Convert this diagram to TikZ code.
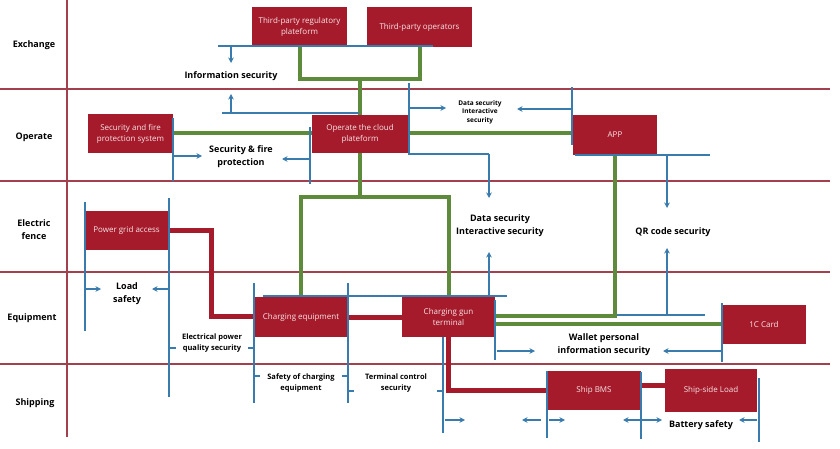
\documentclass[tikz,border=0pt]{standalone}
\usepackage{fontspec}
\setmainfont{Open Sans}
\usetikzlibrary{arrows.meta}
\definecolor{boxred}{HTML}{A61B2B}
\definecolor{gridred}{HTML}{A3404E}
\definecolor{lgreen}{HTML}{5E8A3C}
\definecolor{lblue}{HTML}{3A7BAE}
\pgfdeclarelayer{background}
\pgfsetlayers{background,main}
\begin{document}
\begin{tikzpicture}[x=1pt,y=-1pt,
 box/.style={fill=boxred, draw=none, text=white!88!boxred, font=\fontsize{8}{11}\selectfont, align=center, inner sep=1pt},
 rowlab/.style={font=\bfseries\fontsize{9}{13}\selectfont, align=center},
 lab/.style={font=\bfseries\fontsize{9}{13}\selectfont, align=center},
 mlab/.style={font=\bfseries\fontsize{7.5}{11}\selectfont, align=center},
 slab/.style={font=\bfseries\fontsize{6.5}{8.5}\selectfont, align=center},
 gridline/.style={gridred, line width=1.3pt},
 gline/.style={lgreen, line width=4pt},
 rline/.style={boxred, line width=5pt},
 bline/.style={lblue, line width=1.6pt},
 barrow/.style={bline, -{Stealth[length=5.5pt,width=5.5pt]}},
]
\useasboundingbox (0,0) rectangle (840,449);
% boxes
\node[box, minimum width=95, minimum height=39] (reg) at (299.5,26.5) {Third-party regulatory\\plateform};
\node[box, minimum width=105, minimum height=40] (ops) at (419.5,27) {Third-party operators};
\node[box, minimum width=85, minimum height=39] (sec) at (130.5,133.5) {Security and fire\\protection system};
\node[box, minimum width=96, minimum height=38] (cloud) at (360,134) {Operate the cloud\\plateform};
\node[box, minimum width=84, minimum height=40] (app) at (615,135) {APP};
\node[box, minimum width=83, minimum height=39] (grid) at (126.5,230.5) {Power grid access};
\node[box, minimum width=94, minimum height=40] (cheq) at (301,317) {Charging equipment};
\node[box, minimum width=93, minimum height=40] (gun) at (448.5,317) {Charging gun\\terminal};
\node[box, minimum width=84, minimum height=39] (card) at (764,324.5) {1C Card};
\node[box, minimum width=94, minimum height=39] (bms) at (594,390.5) {Ship BMS};
\node[box, minimum width=92, minimum height=43] (load) at (711,390.5) {Ship-side Load};
\begin{pgfonlayer}{background}
% grid
\draw[gridline] (67,0) -- (67,437);
\foreach \yy in {89,181,272,364} \draw[gridline] (0,\yy) -- (830,\yy);
% green links
\draw[gline] (reg.south) -- ++(0,33) -| (ops.south);
\draw[gline] (cloud.north |- 0,79) -- (cloud.north);
\draw[gline] (cloud.south) -- (cloud.south |- 0,197);
\draw[gline] (cheq.north) -- (cheq.north |- 0,197) -- (gun.north |- 0,197) -- (gun.north);
\draw[gline] (sec.east |- 0,133) -- (cloud.west |- 0,133);
\draw[gline] (cloud.east |- 0,133) -- (app.west |- 0,133);
\draw[gline] (app.south) |- (gun.east |- 0,316);
\draw[gline] (gun.east |- 0,324) -- (card.west |- 0,324);
% red links
\draw[rline] (grid.east |- 0,230.5) -- (211,230.5) |- (cheq.west |- 0,316);
\draw[rline] (cheq.east) -- (gun.west);
\draw[rline] (gun.south) |- (bms.west |- 0,390);
\draw[rline] (bms.east |- 0,385) -- (load.west |- 0,385);
\end{pgfonlayer}
% row labels
\node[rowlab] (rEx) at (34,45) {Exchange};
\node[rowlab] (rOp) at (34,137) {Operate};
\node[rowlab] (rEl) at (34,230) {Electric\\fence};
\node[rowlab] (rEq) at (32,318) {Equipment};
\node[rowlab] (rSh) at (35,403) {Shipping};
% blue: exchange / operate
\draw[bline] (218,46) -- (433,46);
\draw[barrow] (231,46) -- (231,63);
\node[lab] (infosec) at (231,76) {Information security};
\draw[barrow] (231,113) -- (231,94);
\draw[bline] (222,113) -- (359,113);
\draw[bline] (409,83) -- (409,153);
\draw[barrow] (409,108) -- (446,108);
\node[slab] (dsec1) at (480,112) {Data security\\Interactive\\security};
\draw[bline] (572,87) -- (572,145);
\draw[barrow] (572,109) -- (517,109);
\draw[bline] (408,154) -- (489,154);
\draw[barrow] (489,154) -- (489,198);
\node[lab] (dsec2) at (500,226) {Data security\\Interactive security};
\draw[barrow] (489,296) -- (489,252);
\draw[bline] (263,296) -- (507,296);
% security & fire
\draw[bline] (173,118) -- (173,181);
\draw[barrow] (173,156) -- (202,156);
\node[lab] (sfp) at (241,157) {Security \& fire\\protection};
\draw[barrow] (310,159) -- (282,159);
\draw[bline] (310,127) -- (310,184);
% app / QR
\draw[bline] (575,155) -- (710,155);
\draw[barrow] (667,155) -- (667,208);
\node[lab] (qr) at (673,232) {QR code security};
\draw[barrow] (667,316) -- (667,248);
\draw[bline] (617,315) -- (705,315);
% load safety
\draw[bline] (85,202) -- (85,331);
\draw[bline] (169,198) -- (169,397);
\draw[barrow] (86,289) -- (101,289);
\draw[barrow] (168,289) -- (152,289);
\node[lab] (loadsafe) at (127,294) {Load\\safety};
% equipment / shipping
\draw[bline] (254,283) -- (254,403);
\draw[bline] (348,283) -- (348,403);
\draw[bline] (169,348) -- (176,348);
\draw[bline] (248,348) -- (254,348);
\draw[bline] (254,376) -- (260,376);
\draw[bline] (342,376) -- (348,376);
\draw[bline] (348,391) -- (354,391);
\draw[bline] (437,391) -- (443,391);
\node[mlab] (epq) at (212,343) {Electrical power\\quality security};
\node[mlab] (soce) at (301,383) {Safety of charging\\equipment};
\node[mlab] (tcs) at (396,383) {Terminal control\\security};
\draw[bline] (443,337) -- (443,433);
% wallet
\draw[bline] (495,300) -- (495,360);
\draw[barrow] (497,351) -- (535,351);
\node[lab] (wallet) at (604,345) {Wallet personal\\information security};
\draw[barrow] (722,351) -- (663,351);
\draw[bline] (722,303) -- (722,362);
% battery
\draw[barrow] (445,420) -- (465,420);
\draw[barrow] (541,420) -- (522,420);
\draw[bline] (547,371) -- (547,438);
\draw[barrow] (549,420) -- (565,420);
\draw[bline] (641,372) -- (641,439);
\draw[barrow] (640,420) -- (623,420);
\draw[barrow] (642,420) -- (662,420);
\node[lab] (batt) at (701,425) {Battery safety};
\draw[barrow] (757,420) -- (739,420);
\draw[bline] (759,378) -- (759,442);
\end{tikzpicture}
\end{document}
